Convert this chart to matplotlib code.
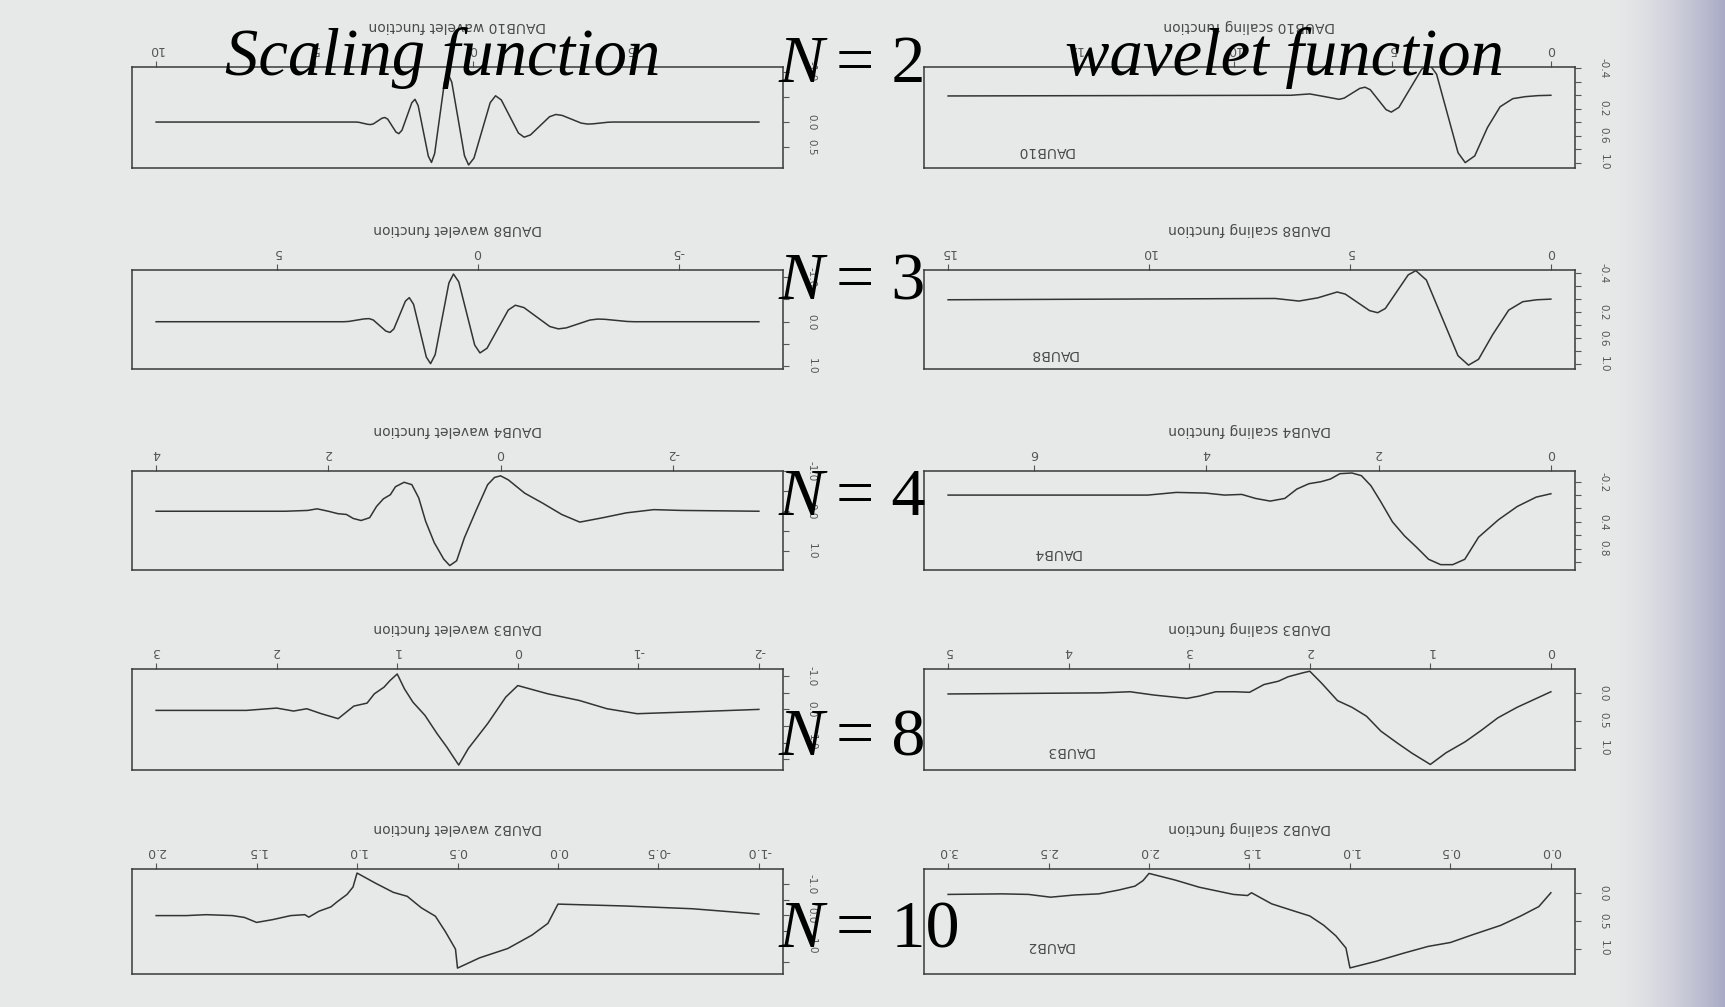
import numpy as np
import matplotlib.pyplot as plt

plt.rcParams['font.family'] = ['DejaVu Sans']

# --- wavelet functions (left column) ---
daub10_wav_x = [10, 3.7, 3.61, 3.47, 3.33, 3.24, 3.15, 3.015, 2.88, 2.79, 2.70, 2.57, 2.44, 2.35, 2.25, 2.095,
                1.94, 1.84, 1.74, 1.58, 1.42, 1.32, 1.22, 1.065, 0.91, 0.81, 0.68, 0.48, 0.28, 0.15, -0.02,
                -0.275, -0.53, -0.70, -0.88, -1.15, -1.42, -1.60, -1.8, -2.1, -2.4, -2.6, -2.8, -3.1, -3.4,
                -3.6, -3.76, -4.0, -4.24, -4.4, -9]
daub10_wav_y = [0, 0, 0.005, 0.025, 0.045, 0.05, 0.036, -0.02, -0.076, -0.09, -0.058, 0.07, 0.198, 0.23, 0.162, -0.11,
                -0.382, -0.45, -0.325, 0.175, 0.675, 0.8, 0.623, -0.085, -0.793, -0.97, -0.788, -0.06, 0.668, 0.85, 0.713,
                0.165, -0.383, -0.52, -0.438, -0.11, 0.218, 0.30, 0.255, 0.075, -0.105, -0.15, -0.131, -0.055, 0.021,
                0.04, 0.036, 0.02, 0.004, 0.0, 0.0]

daub8_wav_x = [8, 3.33, 3.204, 3.015, 2.826, 2.70, 2.596, 2.44, 2.284, 2.18, 2.084, 1.94, 1.796, 1.70, 1.594, 1.435,
               1.276, 1.17, 1.056, 0.885, 0.714, 0.60, 0.468, 0.27, 0.072, -0.06, -0.236, -0.5, -0.764, -0.94,
               -1.154, -1.475, -1.796, -2.01, -2.206, -2.5, -2.794, -2.99, -3.172, -3.445, -3.718, -3.9, -7]
daub8_wav_y = [0, 0, -0.007, -0.035, -0.063, -0.07, -0.039, 0.085, 0.209, 0.24, 0.162, -0.15, -0.462, -0.54, -0.392, 0.2,
               0.792, 0.94, 0.739, -0.065, -0.869, -1.07, -0.893, -0.185, 0.523, 0.70, 0.593, 0.165, -0.263, -0.37,
               -0.317, -0.105, 0.107, 0.16, 0.138, 0.05, -0.038, -0.06, -0.054, -0.03, -0.006, 0.0, 0]

daub4_wav_x = [4.0, 2.5, 2.24, 2.13, 2.0, 1.89, 1.79, 1.71, 1.62, 1.52, 1.44, 1.36, 1.28, 1.22, 1.12, 1.03,
               0.95, 0.87, 0.77, 0.66, 0.59, 0.51, 0.42, 0.28, 0.15, 0.07, 0.0, -0.09, -0.28, -0.49,
               -0.71, -0.92, -1.19, -1.46, -1.78, -2.1, -3.0]
daub4_wav_y = [0, 0, -0.02, -0.06, 0.0, 0.06, 0.08, 0.18, 0.23, 0.16, -0.12, -0.31, -0.41, -0.61, -0.72, -0.66,
               -0.33, 0.25, 0.78, 1.19, 1.35, 1.23, 0.66, -0.04, -0.66, -0.84, -0.88, -0.78, -0.45, -0.2,
               0.08, 0.27, 0.16, 0.04, -0.04, -0.02, 0.0]

daub3_wav_x = [3.0, 2.55, 2.25, 2.0, 1.86, 1.75, 1.63, 1.49, 1.36, 1.25, 1.19, 1.11, 1.06, 1.0, 0.94,
               0.87, 0.77, 0.67, 0.59, 0.49, 0.41, 0.25, 0.1, 0.0, -0.25, -0.51, -0.74, -0.99, -1.47, -2.0]
daub3_wav_y = [0.03, 0.03, 0.03, -0.04, 0.05, -0.02, 0.13, 0.28, -0.1, -0.19, -0.47, -0.67, -0.87, -1.07, -0.62,
               -0.22, 0.18, 0.73, 1.13, 1.68, 1.18, 0.43, -0.37, -0.72, -0.47, -0.27, -0.02, 0.13, 0.07, 0.0]

daub2_wav_x = [2.0, 1.85, 1.75, 1.62, 1.56, 1.5, 1.42, 1.33, 1.26, 1.24, 1.19, 1.13, 1.10, 1.05, 1.02, 1.0,
               0.91, 0.82, 0.75, 0.68, 0.61, 0.56, 0.51, 0.5, 0.39, 0.25, 0.13, 0.05, 0.0, -0.33, -0.67, -1.0]
daub2_wav_y = [0.01, 0.01, -0.02, 0.01, 0.07, 0.23, 0.14, 0.01, -0.02, 0.06, -0.13, -0.27, -0.43, -0.67, -0.91, -1.36,
               -1.04, -0.74, -0.61, -0.24, 0.03, 0.53, 1.09, 1.7, 1.37, 1.07, 0.64, 0.26, -0.36, -0.3, -0.21, -0.04]

# --- scaling functions (right column) ---
daub10_sca_x = [19, 8.2, 7.6, 7.13, 6.68, 6.516, 6.27, 6.024, 5.86, 5.694, 5.445, 5.196, 5.03, 4.79, 4.43, 4.07,
                3.83, 3.604, 3.265, 2.926, 2.7, 2.4, 2.0, 1.6, 1.2, 0.8, 0.4, 0]
daub10_sca_y = [0.01, 0.0, -0.02, 0.02, 0.06, 0.042, -0.03, -0.102, -0.12, -0.083, 0.065, 0.213, 0.25, 0.179, -0.105, -0.389,
                -0.46, -0.314, 0.27, 0.854, 1.0, 0.9, 0.48, 0.17, 0.05, 0.02, 0.005, 0.0]

daub8_sca_x = [15, 6.86, 6.27, 5.8, 5.32, 5.118, 4.815, 4.512, 4.31, 4.12, 3.835, 3.55, 3.36, 3.098, 2.705, 2.312,
               2.05, 1.8, 1.45, 1.05, 0.7, 0.35, 0]
daub8_sca_y = [0.01, -0.01, 0.03, -0.02, -0.11, -0.078, 0.05, 0.178, 0.21, 0.145, -0.115, -0.375, -0.44, -0.294, 0.29, 0.874,
               1.02, 0.93, 0.55, 0.17, 0.04, 0.01, 0.0]

daub4_sca_x = [7.0, 4.68, 4.35, 4.01, 3.79, 3.59, 3.43, 3.26, 3.09, 2.95, 2.81, 2.67, 2.56, 2.45, 2.31, 2.2,
               2.09, 1.98, 1.84, 1.7, 1.56, 1.42, 1.28, 1.14, 1.0, 0.84, 0.61, 0.39, 0.17, 0]
daub4_sca_y = [0.0, 0.0, -0.04, -0.03, 0.0, -0.01, 0.05, 0.09, 0.05, -0.09, -0.17, -0.2, -0.24, -0.32, -0.33, -0.29,
               -0.14, 0.09, 0.4, 0.61, 0.78, 0.96, 1.04, 1.04, 0.96, 0.63, 0.37, 0.17, 0.03, -0.02]

daub3_sca_x = [5.0, 3.73, 3.49, 3.29, 3.02, 2.92, 2.78, 2.62, 2.5, 2.38, 2.26, 2.18, 2.06, 2.0, 1.9, 1.77,
               1.65, 1.53, 1.41, 1.27, 1.15, 1.0, 0.87, 0.71, 0.58, 0.44, 0.28, 0.12, 0]
daub3_sca_y = [0.02, 0.0, -0.02, 0.04, 0.1, 0.06, -0.02, -0.02, -0.01, -0.15, -0.21, -0.29, -0.36, -0.39, -0.17, 0.14,
               0.26, 0.42, 0.69, 0.91, 1.09, 1.29, 1.08, 0.88, 0.68, 0.45, 0.26, 0.1, -0.02]

daub2_sca_x = [3.0, 2.73, 2.6, 2.49, 2.37, 2.25, 2.15, 2.07, 2.03, 2.0, 1.87, 1.75, 1.58, 1.51, 1.49, 1.39,
               1.27, 1.2, 1.13, 1.07, 1.02, 1.0, 0.87, 0.73, 0.61, 0.5, 0.39, 0.25, 0.15, 0.06, 0.0]
daub2_sca_y = [0.02, 0.01, 0.02, 0.07, 0.03, 0.01, -0.06, -0.13, -0.23, -0.36, -0.24, -0.11, 0.02, 0.04, -0.01, 0.19,
               0.33, 0.41, 0.58, 0.77, 0.99, 1.35, 1.23, 1.08, 0.96, 0.89, 0.75, 0.58, 0.41, 0.24, -0.01]

names = ['DAUB10', 'DAUB8', 'DAUB4', 'DAUB3', 'DAUB2']
n_labels = ['2', '3', '4', '8', '10']

wav_curves = [(daub10_wav_x, daub10_wav_y), (daub8_wav_x, daub8_wav_y), (daub4_wav_x, daub4_wav_y),
              (daub3_wav_x, daub3_wav_y), (daub2_wav_x, daub2_wav_y)]
sca_curves = [(daub10_sca_x, daub10_sca_y), (daub8_sca_x, daub8_sca_y), (daub4_sca_x, daub4_sca_y),
              (daub3_sca_x, daub3_sca_y), (daub2_sca_x, daub2_sca_y)]

wav_xticks = [[10, 5, 0, -5], [5, 0, -5], [4, 2, 0, -2], [3, 2, 1, 0, -1, -2],
              [2.0, 1.5, 1.0, 0.5, 0.0, -0.5, -1.0]]
wav_xlabels = [['10', '5', '0', '-5'], ['5', '0', '-5'], ['4', '2', '0', '-2'], ['3', '2', '1', '0', '-1', '-2'],
               ['2.0', '1.5', '1.0', '0.5', '0.0', '-0.5', '-1.0']]
sca_xticks = [[15, 10, 5, 0], [15, 10, 5, 0], [6, 4, 2, 0], [5, 4, 3, 2, 1, 0],
              [3.0, 2.5, 2.0, 1.5, 1.0, 0.5, 0.0]]
sca_xlabels = [['15', '10', '5', '0'], ['15', '10', '5', '0'], ['6', '4', '2', '0'], ['5', '4', '3', '2', '1', '0'],
               ['3.0', '2.5', '2.0', '1.5', '1.0', '0.5', '0.0']]

wav_yticks = [[-1.0, -0.5, 0.0, 0.5], [-1.0, -0.5, 0.0, 0.5, 1.0], [-1.0, -0.5, 0.0, 0.5, 1.0],
              [-1.0, -0.5, 0.0, 0.5, 1.0, 1.5], [-1.0, -0.5, 0.0, 0.5, 1.0, 1.5]]
wav_ylabels = [['-1.0', '', '0.0', '0.5'], ['-1.0', '', '0.0', '', '1.0'], ['-1.0', '', '0.0', '', '1.0'],
               ['-1.0', '', '0.0', '', '1.0', ''], ['-1.0', '', '0.0', '', '1.0', '']]
sca_yticks = [[-0.4, -0.2, 0.0, 0.2, 0.4, 0.6, 0.8, 1.0], [-0.4, -0.2, 0.0, 0.2, 0.4, 0.6, 0.8, 1.0],
              [-0.2, 0.0, 0.2, 0.4, 0.6, 0.8, 1.0], [0.0, 0.5, 1.0], [0.0, 0.5, 1.0]]
sca_ylabels = [['-0.4', '', '', '0.2', '', '0.6', '', '1.0'], ['-0.4', '', '', '0.2', '', '0.6', '', '1.0'],
               ['-0.2', '', '', '0.4', '', '0.8', ''], ['0.0', '0.5', '1.0'], ['0.0', '0.5', '1.0']]

# frame extents in data units (upper, lower)
wav_ylims = [(-1.09, 0.91), (-1.16, 1.06), (-0.98, 1.46), (-1.22, 1.83), (-1.49, 1.89)]
sca_ylims = [(-0.42, 1.08), (-0.45, 1.08), (-0.36, 1.12), (-0.43, 1.39), (-0.44, 1.46)]

W, H = 1725, 1007
fig = plt.figure(figsize=(W / 100, H / 100), dpi=100)
bg = '#e7e8e8'
fig.patch.set_facecolor(bg)

# scanner shading on the right edge
gax = fig.add_axes([1610 / W, 0, (W - 1610) / W, 1], zorder=0)
t = np.linspace(0, 1, 200) ** 1.6
c0 = np.array([231, 232, 232]) / 255
c1 = np.array([168, 170, 198]) / 255
grad = c0[None, :] * (1 - t[:, None]) + c1[None, :] * t[:, None]
gax.imshow(grad[None, :, :], aspect='auto', extent=[0, 1, 0, 1])
gax.axis('off')

rows_px = [(67, 168), (270, 369), (471, 570), (669, 770), (869, 974)]
cols_px = [(132, 783), (924, 1575)]
ink = '#333333'
tick_ink = '#555555'
inner_pos = [(0.186, 0.17), (0.198, 0.15), (0.203, 0.17), (0.223, 0.19), (0.192, 0.27)]


def draw_panel(rect, x, y, xt, xl, yt, yl, ylim, title):
    ax = fig.add_axes(rect, zorder=1)
    ax.patch.set_alpha(0)
    ax.plot(x, y, color=ink, lw=1.1, solid_joinstyle='round')
    span = max(x) - min(x)
    # plot is printed upside down: both axes run backwards
    ax.set_xlim(max(x) + 0.04 * span, min(x) - 0.04 * span)
    ax.set_ylim(ylim[1], ylim[0])
    ax.xaxis.tick_top()
    ax.yaxis.tick_right()
    ax.set_xticks(xt)
    ax.set_xticklabels(xl, rotation=180)
    ax.set_yticks(yt)
    ax.set_yticklabels(yl, rotation=-90, va='center')
    ax.tick_params(axis='x', length=4, width=0.8, pad=4, labelsize=9, colors=tick_ink)
    ax.tick_params(axis='y', length=4, width=0.8, pad=13, labelsize=7.5, colors=tick_ink)
    ax.xaxis.set_label_position('top')
    ax.set_xlabel(title, rotation=180, labelpad=9, fontsize=10, color='#4a4a4a')
    for s in ax.spines.values():
        s.set_color('#3a3a3a')
        s.set_linewidth(1.1)
    return ax


for i in range(5):
    top, bot = rows_px[i]
    for j in range(2):
        l, r = cols_px[j]
        rect = [l / W, 1 - bot / H, (r - l) / W, (bot - top) / H]
        if j == 0:
            x, y = wav_curves[i]
            draw_panel(rect, x, y, wav_xticks[i], wav_xlabels[i], wav_yticks[i], wav_ylabels[i],
                       wav_ylims[i], names[i] + ' wavelet function')
        else:
            x, y = sca_curves[i]
            ax = draw_panel(rect, x, y, sca_xticks[i], sca_xlabels[i], sca_yticks[i], sca_ylabels[i],
                            sca_ylims[i], names[i] + ' scaling function')
            ax.text(inner_pos[i][0], inner_pos[i][1], names[i], transform=ax.transAxes, rotation=180,
                    ha='center', va='center', fontsize=10, color='#4a4a4a')

# overlaid headings
serif_it = dict(family='Liberation Serif', style='italic', color='black', zorder=5)
serif_rm = dict(family='Liberation Serif', color='black', zorder=5)
fig.text(225 / W, 1 - 75 / H, 'Scaling function', fontsize=48, ha='left', va='baseline', **serif_it)
fig.text(1065 / W, 1 - 75 / H, 'wavelet function', fontsize=48, ha='left', va='baseline', **serif_it)

n_base = [82, 299, 515, 755, 947]
for k in range(5):
    fig.text(778 / W, 1 - n_base[k] / H, 'N', fontsize=49, ha='left', va='baseline', **serif_it)
    fig.text(836 / W, 1 - n_base[k] / H, '= ' + n_labels[k], fontsize=49, ha='left', va='baseline',
             **serif_rm)

fig.savefig('out.png', dpi=100, facecolor=bg)
